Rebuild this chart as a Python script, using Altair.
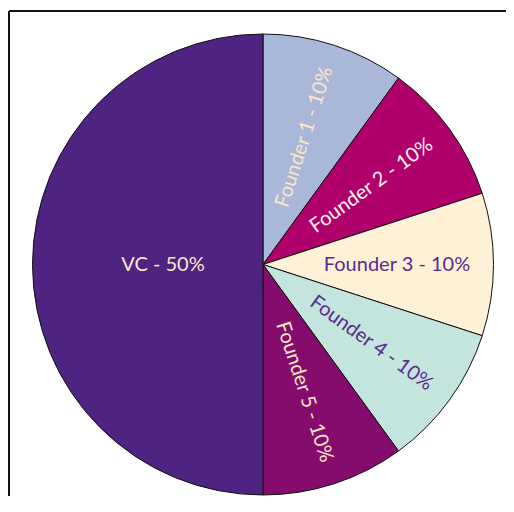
import altair as alt
import pandas as pd
import math

categories = ["Founder 1", "Founder 2", "Founder 3", "Founder 4", "Founder 5", "VC"]
shares = [10, 10, 10, 10, 10, 50]
labels = ["Founder 1 - 10%", "Founder 2 - 10%", "Founder 3 - 10%",
          "Founder 4 - 10%", "Founder 5 - 10%", "VC - 50%"]

fill_colors = ["#a9b7d9", "#b0006c", "#fff1d6", "#c4e5dd", "#850c6c", "#4f2382"]
text_colors = ["#fde6c6", "#fff4ee", "#5a2b8c", "#5a2b8c", "#fde6c6", "#fde6c6"]

df = pd.DataFrame({"cat": categories, "share": shares, "label": labels,
                   "order": list(range(len(categories)))})

W, H = 498, 488
CX, CY = 255, 256.5
R = 230.5

base = alt.Chart(df).transform_window(
    cum="sum(share)", sort=[alt.SortField("order")]
).transform_joinaggregate(total="sum(share)").transform_calculate(
    mid="(datum.cum - datum.share/2) / datum.total * 360",
    ang0="(datum.mid - 90 + 360) % 360",
    ang="(datum.ang0 > 90 && datum.ang0 < 270) ? (datum.ang0 + 180) % 360 : datum.ang0",
)

arcs = alt.Chart(df).mark_arc(stroke="#111111", strokeWidth=1).encode(
    theta=alt.Theta("share:Q", stack=True),
    order=alt.Order("order:Q"),
    color=alt.Color("cat:N", scale=alt.Scale(domain=categories, range=fill_colors), legend=None),
    radius=alt.value(R),
    x=alt.value(CX),
    y=alt.value(CY),
)

def label_layer(filt, rad):
    return base.transform_filter(filt).mark_text(
        font="Lato", fontSize=20, align="center", baseline="middle"
    ).encode(
        theta=alt.Theta("mid:Q", stack=None, scale=alt.Scale(domain=[0, 360], range=[0, 2 * math.pi])),
        radius=alt.value(rad),
        angle=alt.Angle("ang:Q", scale=None),
        text="label:N",
        color=alt.Color("cat:N", scale=alt.Scale(domain=categories, range=text_colors), legend=None),
        x=alt.value(CX),
        y=alt.value(CY),
    )

founder_text = label_layer("datum.share < 50", 134)
vc_text = label_layer("datum.share >= 50", 100)

frame_top = alt.Chart(df).mark_rule(color="#111111", strokeWidth=2).encode(
    x=alt.value(1), x2=alt.value(W), y=alt.value(3)
)
frame_left = alt.Chart(df).mark_rule(color="#111111", strokeWidth=2).encode(
    x=alt.value(1), y=alt.value(3), y2=alt.value(H)
)

chart = alt.layer(arcs, founder_text, vc_text, frame_top, frame_left).resolve_scale(
    color="independent", theta="independent"
).properties(
    width=W, height=H, autosize=alt.AutoSizeParams(type="none"), padding=0
).configure_view(stroke=None)

chart.save("out.html", embed_options={"renderer": "svg", "actions": False})
